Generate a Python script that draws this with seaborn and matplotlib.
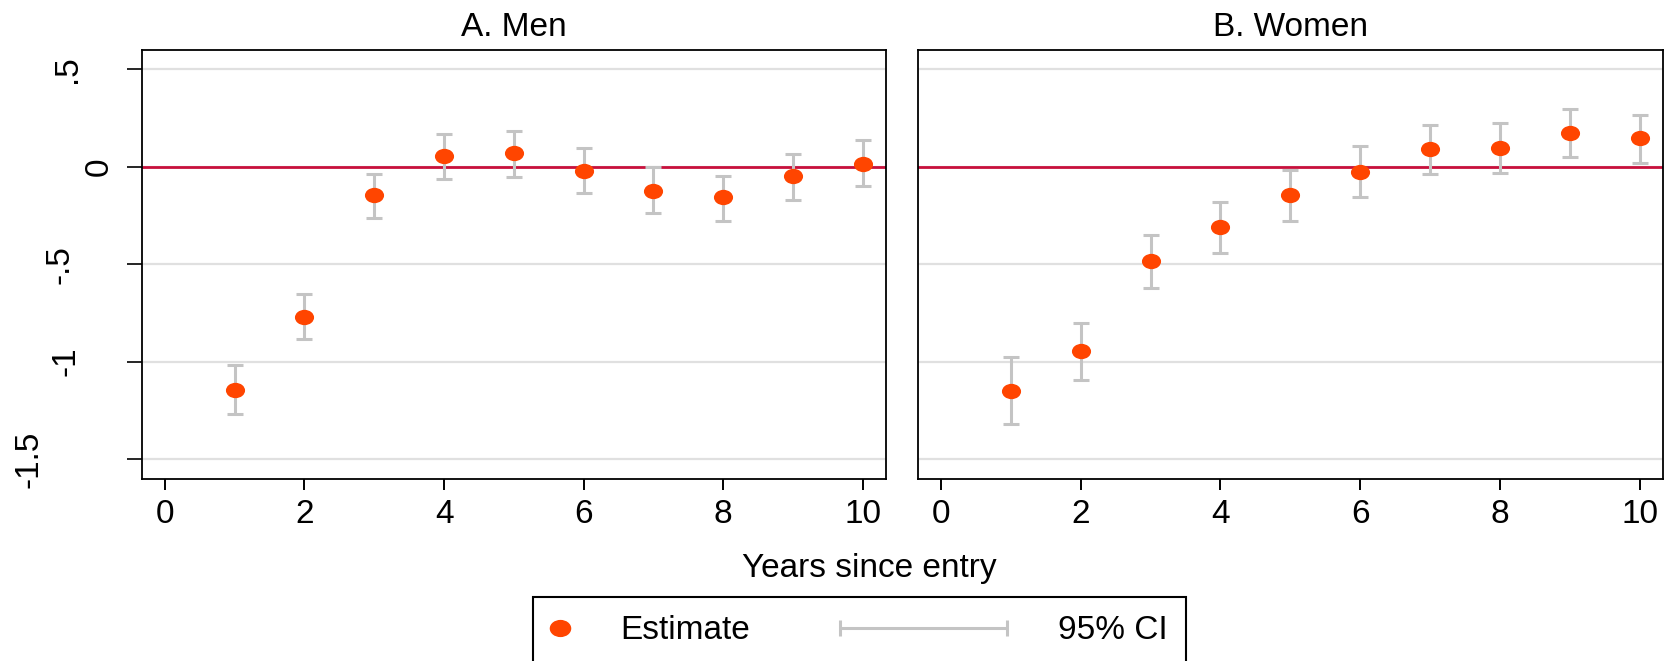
import numpy as np
import pandas as pd
import matplotlib
matplotlib.use("Agg")
import matplotlib.pyplot as plt
import matplotlib.transforms as mtransforms
from matplotlib.path import Path
from matplotlib.lines import Line2D
from matplotlib.legend_handler import HandlerBase
import seaborn as sns

# ---------------- data ----------------
years = [1, 2, 3, 4, 5, 6, 7, 8, 9, 10]
men_est = [-1.145, -0.769, -0.147, 0.057, 0.070, -0.020, -0.125, -0.156, -0.048, 0.017]
men_lo = [-1.268, -0.886, -0.262, -0.061, -0.051, -0.134, -0.237, -0.277, -0.169, -0.099]
men_hi = [-1.017, -0.651, -0.037, 0.167, 0.182, 0.097, 0.000, -0.046, 0.068, 0.136]
women_est = [-1.149, -0.947, -0.484, -0.308, -0.145, -0.024, 0.090, 0.099, 0.174, 0.149]
women_lo = [-1.319, -1.095, -0.624, -0.444, -0.277, -0.154, -0.039, -0.029, 0.050, 0.022]
women_hi = [-0.974, -0.800, -0.352, -0.182, -0.017, 0.105, 0.217, 0.226, 0.299, 0.268]
panel_titles = ["A. Men", "B. Women"]
x_ticks = [0, 2, 4, 6, 8, 10]
y_ticks = [0.5, 0, -0.5, -1, -1.5]
y_tick_labels = [".5", "0", "-.5", "-1", "-1.5"]
x_label = "Years since entry"
legend_labels = ["Estimate", "95% CI"]

# ---------------- style ----------------
sns.set_style("white")
plt.rcParams["font.family"] = ["Liberation Sans", "DejaVu Sans"]
for key in ["text.color", "axes.labelcolor", "xtick.color", "ytick.color",
            "xtick.labelcolor", "ytick.labelcolor"]:
    plt.rcParams[key] = "black"

EST_COLOR = "#FF4500"
CI_COLOR = "#C4C4C4"
ZERO_COLOR = "#C8103C"
GRID_COLOR = "#E0E0E0"
FS = 24

ellipse = Path.unit_circle().transformed(mtransforms.Affine2D().scale(1.0, 0.8))

fig = plt.figure(figsize=(16.75, 6.61), dpi=100)
ax1 = fig.add_axes([0.0847, 0.276, 0.4442, 0.6484])
ax2 = fig.add_axes([0.5481, 0.276, 0.4445, 0.6484], sharey=ax1)

panels = [
    (ax1, men_est, men_lo, men_hi),
    (ax2, women_est, women_lo, women_hi),
]

for i, (ax, est, lo, hi) in enumerate(panels):
    df = pd.DataFrame({"year": years, "est": est, "lo": lo, "hi": hi})
    ax.set_axisbelow(True)
    ax.yaxis.grid(True, color=GRID_COLOR, linewidth=1.6)
    ax.xaxis.grid(False)
    ax.axhline(0, color=ZERO_COLOR, linewidth=2.0, zorder=1.5)
    ax.errorbar(df["year"], df["est"],
                yerr=[df["est"] - df["lo"], df["hi"] - df["est"]],
                fmt="none", ecolor=CI_COLOR, elinewidth=2.2,
                capsize=6, capthick=2.2, zorder=2)
    sns.scatterplot(data=df, x="year", y="est", ax=ax, color=EST_COLOR,
                    marker=ellipse, s=190, linewidth=0, zorder=3, legend=False)
    ax.set_xlim(-0.33, 10.33)
    ax.set_ylim(-1.6, 0.6)
    ax.set_xticks(x_ticks)
    ax.set_xticklabels([str(t) for t in x_ticks])
    ax.set_yticks(y_ticks)
    ax.set_xlabel("")
    ax.set_ylabel("")
    ax.set_title(panel_titles[i], fontsize=FS, pad=10, color="black")
    for sp in ax.spines.values():
        sp.set_visible(True)
        sp.set_color("black")
        sp.set_linewidth(1.3)
    ax.tick_params(axis="x", direction="out", length=8, width=1.4,
                   labelsize=FS, pad=6.5, bottom=True, color="black",
                   labelcolor="black")

ax1.set_yticklabels(y_tick_labels)
ax1.tick_params(axis="y", direction="out", length=10.5, width=1.2,
                labelsize=FS, left=True, color="black", labelcolor="black")
ax2.tick_params(axis="y", left=False, labelleft=False)

# Stata-style vertical y tick labels with their individual offsets (px)
offsets_px = [-74, -43, -82, -75.5, -112.5]
for lab, dx in zip(ax1.get_yticklabels(), offsets_px):
    lab.set_rotation(90)
    lab.set_ha("center")
    lab.set_va("center")
    lab.set_x(0)
    lab.set_transform(
        mtransforms.blended_transform_factory(ax1.transAxes, ax1.transData)
        + mtransforms.ScaledTranslation(dx / 100.0, 0, fig.dpi_scale_trans))

fig.text(0.519, 1 - 576.7 / 661, x_label, ha="center", va="baseline",
         fontsize=FS, color="black")


# ---------------- legend ----------------
class CIHandler(HandlerBase):
    def create_artists(self, legend, orig_handle, xdescent, ydescent,
                       width, height, fontsize, trans):
        y = -ydescent + height / 2.0
        x1 = -xdescent + width
        x0 = x1 - 120.0
        line = Line2D([x0, x1], [y, y], color=CI_COLOR, linewidth=2.2,
                      marker="|", markersize=12, markeredgewidth=2.2,
                      transform=trans)
        return [line]


est_handle = Line2D([], [], linestyle="none", marker=ellipse, markersize=15.5,
                    markerfacecolor=EST_COLOR, markeredgewidth=0)
ci_handle = Line2D([], [], color=CI_COLOR)

leg = fig.legend([est_handle, ci_handle], legend_labels,
                 handler_map={ci_handle: CIHandler()},
                 loc="upper left", bbox_to_anchor=(533 / 1675, 1 - 597 / 661),
                 borderaxespad=0, ncol=2, numpoints=1, fontsize=FS,
                 handlelength=0.52, handletextpad=1.54, columnspacing=7.2,
                 borderpad=0.55, fancybox=False, frameon=True, framealpha=1)
leg.get_frame().set_edgecolor("black")
leg.get_frame().set_linewidth(1.5)
for t in leg.get_texts():
    t.set_color("black")

fig.savefig("out.png", dpi=100)
